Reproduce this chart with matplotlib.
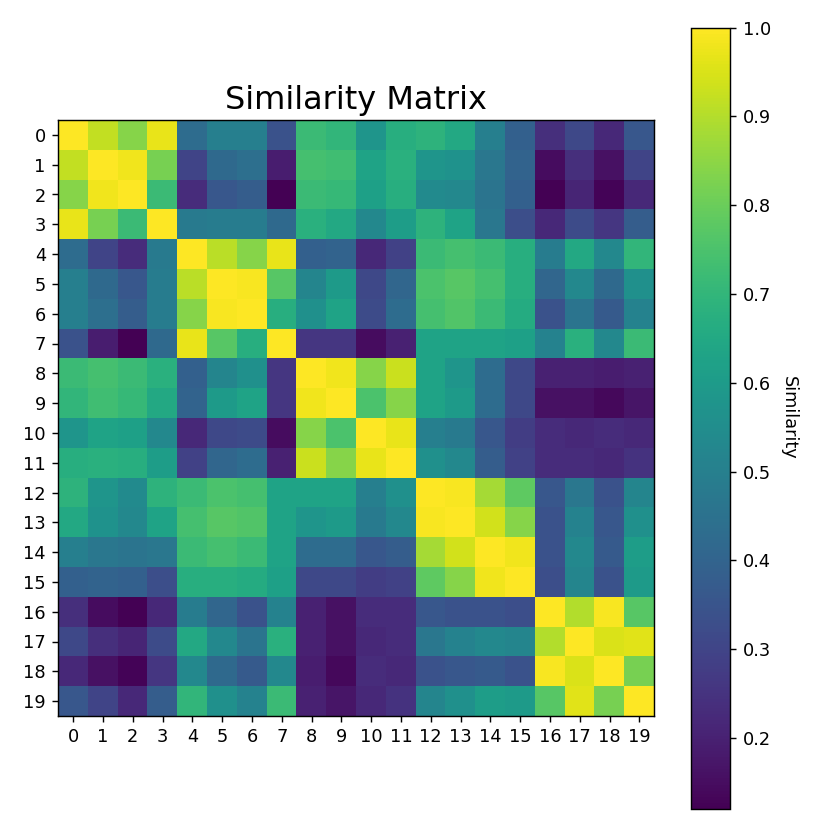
import numpy as np
import matplotlib
matplotlib.use("Agg")
import matplotlib.pyplot as plt

# upper triangle of the similarity matrix, each row starting at the diagonal
row_00 = [1.00, 0.92, 0.84, 0.97, 0.43, 0.50, 0.50, 0.34, 0.72, 0.70, 0.58, 0.67, 0.69, 0.65, 0.50, 0.39, 0.24, 0.31, 0.22, 0.36]
row_01 = [1.00, 0.98, 0.82, 0.30, 0.42, 0.44, 0.19, 0.74, 0.73, 0.63, 0.68, 0.58, 0.57, 0.47, 0.40, 0.15, 0.24, 0.16, 0.30]
row_02 = [1.00, 0.72, 0.23, 0.36, 0.38, 0.12, 0.72, 0.71, 0.62, 0.67, 0.54, 0.53, 0.46, 0.39, 0.12, 0.21, 0.13, 0.22]
row_03 = [1.00, 0.48, 0.49, 0.49, 0.42, 0.68, 0.65, 0.53, 0.61, 0.69, 0.63, 0.47, 0.33, 0.22, 0.32, 0.26, 0.38]
row_04 = [1.00, 0.91, 0.84, 0.97, 0.39, 0.40, 0.22, 0.29, 0.72, 0.74, 0.72, 0.67, 0.49, 0.65, 0.53, 0.70]
row_05 = [1.00, 0.99, 0.77, 0.52, 0.60, 0.31, 0.41, 0.75, 0.77, 0.74, 0.67, 0.41, 0.53, 0.42, 0.56]
row_06 = [1.00, 0.67, 0.56, 0.63, 0.32, 0.43, 0.74, 0.76, 0.72, 0.66, 0.34, 0.46, 0.37, 0.51]
row_07 = [1.00, 0.26, 0.26, 0.15, 0.20, 0.63, 0.63, 0.63, 0.62, 0.51, 0.68, 0.53, 0.72]
row_08 = [1.00, 0.98, 0.84, 0.93, 0.63, 0.58, 0.43, 0.31, 0.20, 0.20, 0.19, 0.20]
row_09 = [1.00, 0.75, 0.84, 0.63, 0.60, 0.43, 0.31, 0.16, 0.16, 0.14, 0.17]
row_10 = [1.00, 0.97, 0.50, 0.48, 0.36, 0.28, 0.23, 0.22, 0.23, 0.22]
row_11 = [1.00, 0.56, 0.53, 0.38, 0.29, 0.23, 0.23, 0.22, 0.25]
row_12 = [1.00, 0.99, 0.88, 0.78, 0.36, 0.47, 0.34, 0.52]
row_13 = [1.00, 0.94, 0.84, 0.34, 0.51, 0.36, 0.56]
row_14 = [1.00, 0.98, 0.34, 0.53, 0.37, 0.61]
row_15 = [1.00, 0.33, 0.52, 0.34, 0.60]
row_16 = [1.00, 0.90, 0.99, 0.77]
row_17 = [1.00, 0.95, 0.96]
row_18 = [1.00, 0.82]
row_19 = [1.00]

upper_rows = [row_00, row_01, row_02, row_03, row_04, row_05, row_06, row_07,
              row_08, row_09, row_10, row_11, row_12, row_13, row_14, row_15,
              row_16, row_17, row_18, row_19]
labels = [str(i) for i in range(20)]


def build_symmetric(rows):
    """fill a full symmetric matrix from the upper triangle rows"""
    n = len(rows)
    mat = np.zeros((n, n))
    for i, vals in enumerate(rows):
        mat[i, i:] = vals
        mat[i:, i] = vals
    return mat


sim = build_symmetric(upper_rows)

fig = plt.figure(figsize=(830 / 128, 830 / 128), dpi=128)
ax = fig.add_axes([58.3 / 830, 114 / 830, 596 / 830, 596 / 830])
cax = fig.add_axes([690.7 / 830, 21 / 830, 39.6 / 830, 781.3 / 830])

im = ax.imshow(sim, cmap="viridis", interpolation="nearest")
ax.set_xticks(range(len(labels)))
ax.set_xticklabels(labels, fontsize=10)
ax.set_yticks(range(len(labels)))
ax.set_yticklabels(labels, fontsize=10)
ax.set_title("Similarity Matrix", fontsize=18)

cbar = fig.colorbar(im, cax=cax)
cbar.ax.tick_params(labelsize=10)
cbar.set_label("Similarity", rotation=270, labelpad=15, fontsize=10)

fig.savefig("out.png", dpi=128)
